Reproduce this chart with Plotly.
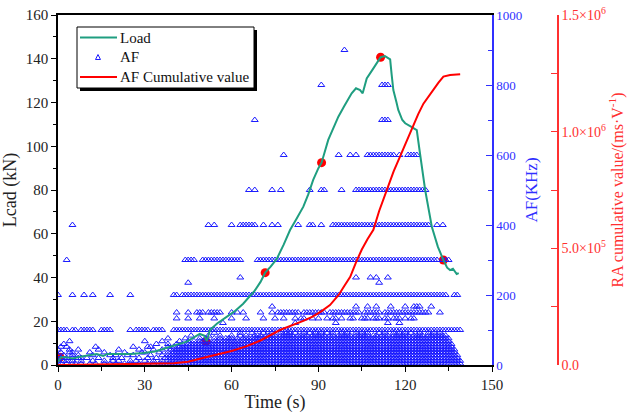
import plotly.graph_objects as go

# ---------------- data ----------------
time_load = [0, 1, 3, 5, 7.6, 10, 13.4, 15.6, 17, 19, 25, 29.4, 33.5, 36, 39.8, 44.5, 49, 50.5, 51.4,
             52.5, 55, 58.3, 61, 64, 66, 68, 70, 71.6, 73.5, 75.6, 78, 80.2, 82.5, 84.8, 86.5, 88.2,
             90, 91.1, 93.4, 95, 96.9, 99, 101.5, 103, 104.4, 105.3, 106.7, 109, 111.5, 113, 114.8,
             115.3, 115.9, 117, 117.6, 119, 120, 122, 124, 125.1, 126.9, 129.2, 131.3, 133.2, 134.5,
             135.5, 136.5, 137.8, 138.5]
load_kn = [1.5, 3.5, 3.6, 3.0, 3.8, 4.2, 5.0, 4.1, 5.0, 5.0, 5.0, 5.5, 6.2, 7.2, 8.8, 10.7, 14.2, 13.5, 11.0,
           16.0, 19.0, 22.0, 24.5, 28.0, 31.0, 34.0, 38.0, 42.2, 45.0, 48.5, 55.0, 61.7, 67.0, 72.4, 78.0, 84.6,
           90.0, 92.5, 102.9, 108.0, 113.5, 118.5, 124.2, 126.5, 125.7, 124.2, 131.0, 135.6, 140.7, 141.2, 139.7,
           133.0, 125.7, 120.0, 116.6, 112.0, 110.5, 109.0, 107.4, 96.8, 80.0, 63.2, 54.0, 48.0, 44.5,
           43.4, 44.0, 41.6, 42.0]

time_cum = [0, 10, 20, 30, 40, 45, 50, 55, 60, 65, 70, 76.7, 80, 85, 88, 91, 94, 97, 99, 101, 103, 105,
            107, 109, 111, 113.6, 116, 118.2, 120.5, 122.8, 124.5, 126.3, 128, 129.7, 131.5, 133.2, 135.5, 139]
af_cum = [0, 1000, 2000, 5000, 8000, 14000, 30000, 45000, 60000, 80000, 105000, 150000, 165000, 190000,
          207000, 230000, 257000, 300000, 340000, 378000, 440000, 495000, 540000, 579000, 660000, 750000,
          830000, 893000, 960000, 1020000, 1075000, 1120000, 1150000, 1180000, 1210000, 1236000, 1243000, 1246000]

mark_time = [0.7, 51.2, 71.6, 91.1, 111.5, 133.2]
mark_load = [3.5, 10.7, 42.2, 92.5, 140.7, 48.0]

# AF triangles: one mask per AF level, 1-second cells from 0 to 139 s ('#' = triangle seen)
af_levels = [900, 800, 700, 600, 500, 400, 300, 250, 235, 200, 167, 150, 133, 120, 100,
             92, 84, 76, 68, 60, 52, 44, 36, 28, 20, 12, 4]
af_masks = [
    "..........|..........|..........|..........|..........|..........|..........|..........|..........|.........#|..........|..........|..........|..........",
    "..........|..........|..........|..........|..........|..........|..........|..........|..........|.#........|..........|..###.....|..........|..........",
    "..........|..........|..........|..........|..........|..........|........#.|..........|..........|..........|..........|..###.....|..........|..........",
    "..........|..........|..........|..........|..........|..........|..........|........#.|..........|.......#..|.#.#...###|#######.#.|.####.....|..........",
    "..........|..........|..........|..........|..........|..........|......#.#.|....#..#..|.......#..|.##.....#.|...#######|##########|########..|..........",
    ".....#....|..........|..........|..........|..........|..#.#.....|#..######.|.#..#.#...|...#...##.|.#...#####|##########|##########|#########.|.#.#......",
    "...#......|..........|..........|..........|....####..|##########|####.....#|##########|##########|##########|##########|##########|##########|##.###....",
    "..........|..........|..........|..........|..........|..........|...#......|..........|..........|..........|...#....#.|#...#.....|..........|..........",
    "..........|..........|..........|..........|.....#....|..........|..........|..........|..........|..........|..........|.#........|..........|..........",
    "#....#...#|..#.....#.|.....#....|..........|##.#######|##########|##########|##########|##########|##########|##########|##########|##########|#####..##.",
    "..........|..........|..........|..........|..........|..........|..........|....#.....|..........|..........|...#...#..|#....#....|#..###...#|..........",
    "..........|..........|..........|..........|.#...#..##|#.#####...|#.#.#.....|#...#.####|####.#####|###.######|#####.####|##.#######|#########.|..#.......",
    "..........|..........|..........|..........|.#...#...#|....#.....|#....#....|.#...#..#.|..#.##..#.|#..#.##.#.|.##..###.#|##.##.###.|#.##......|..........",
    "..........|..........|..........|..........|..........|.......#..|..........|..........|..#.......|......#...|..........|....#...#.|..........|..........",
    "####.##.##|###..####.|.....#.###|##.####...|##########|##########|##########|##########|##########|##########|##########|##########|##########|##########",
    "..........|..........|..........|..........|..........|....#.....|...#...#..|.#..#..#.#|#.#..#.#.#|.#.#.#..#.|#..#.#.#..|.#.#..#.#.|#.#..#..#.|#.#.......",
    "..........|..........|..........|..........|......#...|..#...#...|#..#.#..##|#.####.###|##.####.##|###.##.###|##.#####.#|#.###.####|##.####.##|#####.....",
    "..........|..........|..........|........#.|....#....#|.#..#.#.##|#.#.######|##########|##########|##########|##########|##########|##########|######....",
    "....#.....|..........|..........|#.....#...|..#..#.#.#|#.#.######|##########|##########|##########|##########|##########|##########|##########|######....",
    "..#.......|..........|..........|....#...#.|.#.#.#####|##########|##########|##########|##########|##########|##########|##########|##########|#######...",
    ".#.#......|...#......|......#...|.##.....#.|#.########|##########|##########|##########|##########|##########|##########|##########|##########|#######...",
    "#...#..#..|....#.....|.#......#.|...#..#..#|##########|##########|##########|##########|##########|##########|##########|##########|##########|########..",
    ".#..##....|.#....#...|...#.....#|#....#..#.|##########|##########|##########|##########|##########|##########|##########|##########|##########|########..",
    "#.#..#.#..|..#.....#.|#...#.#...|..#...#.##|##########|##########|##########|##########|##########|##########|##########|##########|##########|#########.",
    ".#.#.#.##.|#...#....#|..#.....#.|.#..#..###|##########|##########|##########|##########|##########|##########|##########|##########|##########|#########.",
    "#.##.#..#.|..#...#..#|.#...#.#..|#..#..#.##|##########|##########|##########|##########|##########|##########|##########|##########|##########|##########",
    "##.#.##.#.|.#.#..#.#.|#..#.#..#.|.#.#.##.##|##########|##########|##########|##########|##########|##########|##########|##########|##########|##########",
]

legend_labels = ["Load", "AF", "AF Cumulative value"]
x_ticks = [0, 30, 60, 90, 120, 150]
ra_ticks = [0, 500000, 1000000, 1500000]
ra_ticktext = ["0.0", "5.0×10<sup>5</sup>", "1.0×10<sup>6</sup>", "1.5×10<sup>6</sup>"]

# ---------------- build ----------------
af_t, af_v = [], []
for level, mask in zip(af_levels, af_masks):
    for sec, c in enumerate(mask.replace("|", "")):
        if c == "#":
            af_t.append(sec)
            af_v.append(level)

FONT = "Liberation Serif, Times New Roman, serif"
GREEN = "#1f9e80"
BLUE = "#1c1cff"
AXBLUE = "#3030ff"
RED = "#ff0000"
AXRED = "#ff3030"

W, H = 638, 415
ML, MR, MT, MB = 58, 60, 15, 50
PW = W - ML - MR
PH = H - MT - MB
x_end = (492 - ML) / PW
red_pos = (558 - ML) / PW

def px(x):
    return (x - ML) / PW

def py(y):
    return (H - MB - y) / PH

fig = go.Figure()
fig.add_trace(go.Scatter(x=mark_time, y=mark_load, mode="markers", xaxis="x", yaxis="y",
                         marker=dict(color=RED, size=9), showlegend=False, hoverinfo="skip"))
fig.add_trace(go.Scatter(x=af_t, y=af_v, mode="markers", name="AF", xaxis="x", yaxis="y2",
                         marker=dict(symbol="triangle-up-open", size=6, color=BLUE,
                                     line=dict(width=1, color=BLUE)), showlegend=False))
fig.add_trace(go.Scatter(x=time_load, y=load_kn, mode="lines", name="Load", xaxis="x", yaxis="y3",
                         line=dict(color=GREEN, width=2), showlegend=False))
fig.add_trace(go.Scatter(x=time_cum, y=af_cum, mode="lines", name="AF Cumulative value", xaxis="x",
                         yaxis="y4", line=dict(color=RED, width=2), showlegend=False))

# hand-built legend box (with drop shadow like the reference)
shapes = [
    dict(type="rect", xref="paper", yref="paper", x0=px(80), x1=px(257), y0=py(91), y1=py(30),
         fillcolor="black", line=dict(width=0), layer="above"),
    dict(type="rect", xref="paper", yref="paper", x0=px(77), x1=px(254), y0=py(88), y1=py(27),
         fillcolor="white", line=dict(width=1, color="black"), layer="above"),
    dict(type="line", xref="paper", yref="paper", x0=px(80), x1=px(117), y0=py(37.5), y1=py(37.5),
         line=dict(color=GREEN, width=2), layer="above"),
    dict(type="path", xref="paper", yref="paper",
         path="M {:.5f},{:.5f} L {:.5f},{:.5f} L {:.5f},{:.5f} Z".format(
             px(95.5), py(59.5), px(98), py(54.5), px(100.5), py(59.5)),
         line=dict(color=BLUE, width=1), fillcolor="rgba(0,0,0,0)", layer="above"),
    dict(type="line", xref="paper", yref="paper", x0=px(80), x1=px(117), y0=py(77), y1=py(77),
         line=dict(color=RED, width=2), layer="above"),
]
annotations = []
for label, ypix in zip(legend_labels, [37.5, 57, 77]):
    annotations.append(dict(text=label, xref="paper", yref="paper", x=px(118), y=py(ypix),
                            xanchor="left", yanchor="middle", showarrow=False,
                            font=dict(size=15, color="#111", family=FONT)))

fig.update_layout(
    width=W, height=H, margin=dict(l=ML, r=MR, t=MT, b=MB, autoexpand=False),
    paper_bgcolor="white", plot_bgcolor="white",
    font=dict(family=FONT, size=15, color="#222"),
    showlegend=False,
    xaxis=dict(domain=[0, x_end], range=[0, 150], tickvals=x_ticks, ticks="outside", ticklen=5,
               tickcolor="black", showline=True, linecolor="black", linewidth=1.5, mirror=True,
               showgrid=False, zeroline=False, tickfont=dict(size=15, color="#222"), automargin=False,
               minor=dict(dtick=15, ticks="outside", ticklen=4, tickcolor="black"),
               title=dict(text="Time (s)", font=dict(size=18, color="#222"), standoff=4)),
    yaxis=dict(range=[0, 160], dtick=20, ticks="outside", ticklen=5, tickcolor="black",
               showline=True, linecolor="black", linewidth=1.5, showgrid=False, zeroline=False,
               tickfont=dict(size=15, color="#222"), automargin=False,
               minor=dict(dtick=10, ticks="outside", ticklen=3, tickcolor="black"),
               title=dict(text="Lcad (kN)", font=dict(size=18, color="#222"), standoff=5)),
    yaxis2=dict(overlaying="y", side="right", anchor="x", range=[0, 1000], dtick=200, ticks="inside",
                ticklen=6, tickcolor=AXBLUE, showline=True, linecolor=AXBLUE, linewidth=1.5,
                showgrid=False, zeroline=False, tickfont=dict(size=13, color=AXBLUE), automargin=False,
                minor=dict(dtick=100, ticks="inside", ticklen=4, tickcolor=AXBLUE),
                title=dict(text="AF(KHz)", font=dict(size=17, color=AXBLUE), standoff=4)),
    yaxis3=dict(overlaying="y", range=[0, 160], visible=False),
    yaxis4=dict(overlaying="y", side="right", anchor="free", position=red_pos, range=[0, 1500000],
                tickvals=ra_ticks, ticktext=ra_ticktext, ticks="inside", ticklen=6, tickcolor=AXRED,
                showline=True, linecolor=AXRED, linewidth=1.5, showgrid=False, zeroline=False,
                tickfont=dict(size=14, color=AXRED), automargin=False,
                minor=dict(dtick=250000, ticks="inside", ticklen=6, tickcolor=AXRED),
                title=dict(text="RA cumulative value/(ms·V<sup>-1</sup>)", font=dict(size=16, color=AXRED),
                           standoff=4)),
    shapes=shapes,
    annotations=annotations,
)

fig.write_html("out.html")
